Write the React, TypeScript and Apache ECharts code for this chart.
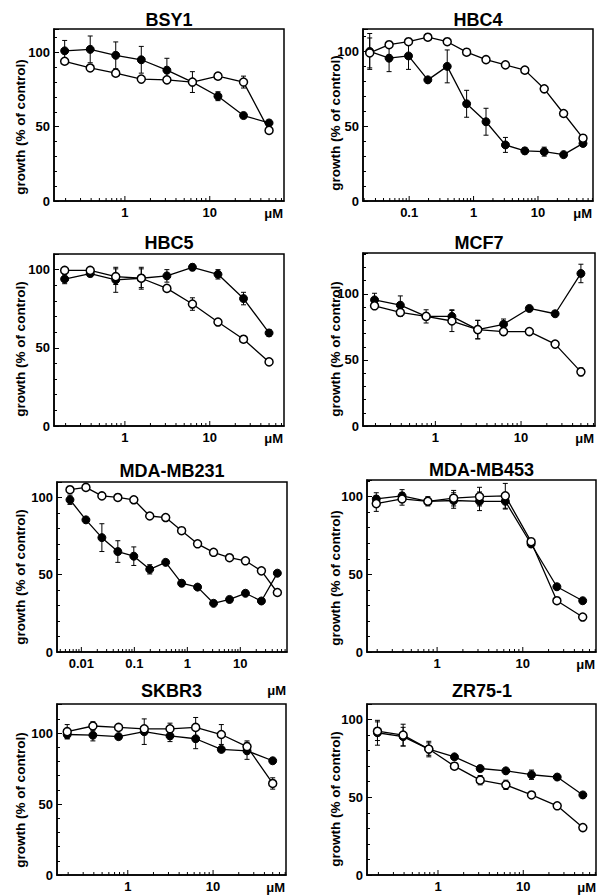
import React, { useEffect, useRef } from "react";
import * as echarts from "echarts";

// ---- concentrations (µM) ----
const conc9 = [0.195, 0.39, 0.78, 1.56, 3.125, 6.25, 12.5, 25, 50];
const conc12 = [0.0244, 0.0488, 0.0977, 0.195, 0.39, 0.78, 1.56, 3.125, 6.25, 12.5, 25, 50];
const conc14 = [0.0061, 0.0122, 0.0244, 0.0488, 0.0977, 0.195, 0.39, 0.78, 1.56, 3.125, 6.25, 12.5, 25, 50];

// ---- BSY1 ----
const bsy1Filled = [101, 102, 98, 95, 88, 80, 70.5, 57.5, 52.5];
const bsy1FilledErr = [7, 9, 9, 9, 8, 0, 3, 0, 0];
const bsy1Open = [94, 89.5, 86, 82, 81.5, 80, 84, 80, 47.5];
const bsy1OpenErr = [0, 2, 0, 0, 0, 7, 2, 4, 0];

// ---- HBC4 ----
const hbc4Filled = [100, 95.5, 97, 81, 90, 65, 53, 37.5, 33.5, 33, 31, 38.5];
const hbc4FilledErr = [12, 9, 9, 0, 11, 9, 9, 5, 2, 3, 0, 0];
const hbc4Open = [99, 104.5, 106.5, 109.5, 106.5, 99.5, 94.5, 91, 87.5, 75, 58.5, 42];
const hbc4OpenErr = [10, 0, 0, 0, 0, 0, 0, 0, 0, 0, 0, 0];

// ---- HBC5 ----
const hbc5Filled = [94, 97.5, 93.5, 94.5, 96, 101.5, 97, 81.5, 59.5];
const hbc5FilledErr = [3, 2, 8, 6, 4, 2, 3, 4, 2];
const hbc5Open = [99.5, 99.5, 95.5, 94.5, 88, 78, 66.5, 55.5, 41];
const hbc5OpenErr = [0, 0, 5, 7, 0, 4, 0, 2, 0];

// ---- MCF7 ----
const mcf7Filled = [95.5, 91.5, 83, 83, 73, 77, 89, 85, 115.5];
const mcf7FilledErr = [5, 7, 5, 5, 7, 4, 0, 0, 7];
const mcf7Open = [91, 86, 83, 79.5, 73, 71.5, 71.5, 62, 41];
const mcf7OpenErr = [0, 3, 0, 8, 7, 3, 0, 0, 3];

// ---- MDA-MB231 ----
const mb231Filled = [98.5, 85.5, 74, 65, 62, 53.5, 58, 44.5, 42, 31.5, 34, 38, 33, 51];
const mb231FilledErr = [3, 0, 9, 7, 6, 3, 0, 2, 0, 0, 0, 0, 0, 0];
const mb231Open = [105, 106.5, 101, 100, 98.5, 88, 87, 78.5, 70, 64.5, 61, 59, 52.5, 38.5];
const mb231OpenErr = [0, 0, 0, 0, 0, 0, 0, 0, 0, 0, 0, 0, 0, 0];

// ---- MDA-MB453 ----
const mb453Filled = [98.5, 100.5, 97, 97.5, 97, 97, 69.5, 42, 33];
const mb453FilledErr = [4, 4, 3, 5, 6, 5, 0, 0, 0];
const mb453Open = [95.5, 98.5, 97, 99, 100, 100.5, 71, 33, 22.5];
const mb453OpenErr = [5, 4, 2, 5, 6, 8, 2, 0, 0];

// ---- SKBR3 ----
const skbr3Filled = [99, 98.5, 97.5, 101, 98, 96, 88.5, 87.5, 80.5];
const skbr3FilledErr = [3, 4, 0, 9, 4, 7, 0, 6, 0];
const skbr3Open = [101, 105, 104, 103, 103, 104, 99, 90.5, 64.5];
const skbr3OpenErr = [5, 3, 0, 0, 4, 7, 7, 4, 4];

// ---- ZR75-1 ----
const zr751Filled = [91.5, 89, 81, 76, 68.5, 67, 64.5, 63, 51.5];
const zr751FilledErr = [8, 6, 5, 0, 0, 0, 3, 0, 0];
const zr751Open = [92.5, 90, 81, 70, 61, 58, 51.5, 44.5, 30.5];
const zr751OpenErr = [6, 7, 4, 0, 3, 3, 2, 0, 0];

const yTickLabels = [0, 50, 100];
const yAxisTitle = "growth (% of control)";
const unitLabel = "\u03bcM";

const panels = [
  { title: "BSY1", conc: conc9, filled: bsy1Filled, filledErr: bsy1FilledErr, open: bsy1Open, openErr: bsy1OpenErr },
  { title: "HBC4", conc: conc12, filled: hbc4Filled, filledErr: hbc4FilledErr, open: hbc4Open, openErr: hbc4OpenErr },
  { title: "HBC5", conc: conc9, filled: hbc5Filled, filledErr: hbc5FilledErr, open: hbc5Open, openErr: hbc5OpenErr },
  { title: "MCF7", conc: conc9, filled: mcf7Filled, filledErr: mcf7FilledErr, open: mcf7Open, openErr: mcf7OpenErr },
  { title: "MDA-MB231", conc: conc14, filled: mb231Filled, filledErr: mb231FilledErr, open: mb231Open, openErr: mb231OpenErr },
  { title: "MDA-MB453", conc: conc9, filled: mb453Filled, filledErr: mb453FilledErr, open: mb453Open, openErr: mb453OpenErr },
  { title: "SKBR3", conc: conc9, filled: skbr3Filled, filledErr: skbr3FilledErr, open: skbr3Open, openErr: skbr3OpenErr },
  { title: "ZR75-1", conc: conc9, filled: zr751Filled, filledErr: zr751FilledErr, open: zr751Open, openErr: zr751OpenErr },
];

// layout (positions/sizes/axis ranges)
const layouts = [
  { left: 54, top: 29, width: 230, height: 172, xMin: 0.146, xMax: 75, yMax: 115.7, titleY: 20, nameX: 20, nameY: 127, unitY: 213 },
  { left: 363, top: 29, width: 230, height: 172, xMin: 0.0192, xMax: 71.5, yMax: 115, titleY: 20, nameX: 335, nameY: 123, unitY: 213 },
  { left: 54, top: 254, width: 230, height: 172, xMin: 0.146, xMax: 75, yMax: 110, titleY: 243, nameX: 20, nameY: 349, unitY: 438 },
  { left: 363, top: 253, width: 232, height: 173, xMin: 0.143, xMax: 73, yMax: 131, titleY: 243, nameX: 335, nameY: 349, unitY: 438 },
  { left: 57, top: 482, width: 230, height: 170, xMin: 0.00347, xMax: 76, yMax: 110, titleY: 471, nameX: 20, nameY: 577, unitY: 690 },
  { left: 367, top: 480, width: 229, height: 172, xMin: 0.152, xMax: 71.5, yMax: 110.7, titleY: 470, nameX: 335, nameY: 578, unitY: 664 },
  { left: 57, top: 704, width: 229, height: 171, xMin: 0.148, xMax: 71.6, yMax: 120.5, titleY: 691, nameX: 20, nameY: 800, unitY: 887 },
  { left: 367, top: 704, width: 230, height: 171, xMin: 0.147, xMax: 71.3, yMax: 110, titleY: 691, nameX: 335, nameY: 799, unitY: 887 },
];

const FONT = "'Liberation Sans', Arial, Helvetica, sans-serif";

function logTicks(min: number, max: number) {
  const out: number[][] = [];
  for (let d = Math.floor(Math.log10(min)); d <= Math.ceil(Math.log10(max)); d++) {
    for (let m = 1; m <= 9; m++) {
      const v = m * Math.pow(10, d);
      if (v > min && v < max) out.push([v, m === 1 ? 1 : 0]);
    }
  }
  return out;
}

function fmtLog(v: number) {
  const l = Math.log10(v);
  const r = Math.round(l);
  if (Math.abs(l - r) > 0.01) return "";
  return String(Math.pow(10, r));
}

const errRender = (params: any, api: any) => {
  const x = api.value(0);
  const y = api.value(1);
  const e = api.value(2);
  const top = api.coord([x, y + e]);
  const bot = api.coord([x, y - e]);
  const w = 2.5;
  const st = { stroke: "#000", lineWidth: 1 };
  return {
    type: "group",
    children: [
      { type: "line", shape: { x1: top[0], y1: top[1], x2: bot[0], y2: bot[1] }, style: st },
      { type: "line", shape: { x1: top[0] - w, y1: top[1], x2: top[0] + w, y2: top[1] }, style: st },
      { type: "line", shape: { x1: bot[0] - w, y1: bot[1], x2: bot[0] + w, y2: bot[1] }, style: st },
    ],
  };
};

const tickRender = (params: any, api: any) => {
  const p = api.coord([api.value(0), 0]);
  const len = api.value(1) ? 5 : 3;
  return {
    type: "line",
    shape: { x1: p[0], y1: p[1], x2: p[0], y2: p[1] - len },
    style: { stroke: "#000", lineWidth: 1 },
  };
};

function buildOption() {
  const grid: any[] = [];
  const xAxis: any[] = [];
  const yAxis: any[] = [];
  const series: any[] = [];
  const graphic: any[] = [];

  panels.forEach((p, i) => {
    const L = layouts[i];
    grid.push({
      left: L.left, top: L.top, width: L.width, height: L.height,
      show: true, borderColor: "#000", borderWidth: 1.5, backgroundColor: "transparent",
    });
    xAxis.push({
      type: "log", logBase: 10, gridIndex: i, min: L.xMin, max: L.xMax,
      axisLine: { lineStyle: { color: "#000", width: 1.5 } },
      axisTick: { show: false },
      splitLine: { show: false },
      axisLabel: {
        formatter: (v: number) => fmtLog(v),
        fontSize: 13, fontWeight: "bold", color: "#000", fontFamily: FONT, margin: 5,
      },
    });
    yAxis.push({
      type: "value", gridIndex: i, min: 0, max: L.yMax, interval: 50,
      axisLine: { show: true, lineStyle: { color: "#000", width: 1.5 } },
      axisTick: { show: true, inside: true, length: 5, lineStyle: { color: "#000", width: 1 } },
      minorTick: { show: true, splitNumber: 5, length: 3, lineStyle: { color: "#000", width: 1 } },
      splitLine: { show: false },
      axisLabel: {
        formatter: (v: number) => (yTickLabels.indexOf(v) >= 0 ? String(v) : ""),
        fontSize: 13, fontWeight: "bold", color: "#000", fontFamily: FONT, margin: 4,
      },
    });

    series.push({
      type: "custom", xAxisIndex: i, yAxisIndex: i, silent: true, clip: false,
      data: logTicks(L.xMin, L.xMax), encode: { x: 0, y: 1 },
      renderItem: tickRender, z: 1,
    });

    const fErr = p.conc.map((c, k) => [c, p.filled[k], p.filledErr[k]]).filter((d) => d[2] > 0);
    const oErr = p.conc.map((c, k) => [c, p.open[k], p.openErr[k]]).filter((d) => d[2] > 0);
    series.push({
      type: "custom", xAxisIndex: i, yAxisIndex: i, silent: true, clip: false,
      data: fErr, encode: { x: 0, y: 1 }, renderItem: errRender, z: 2,
    });
    series.push({
      type: "custom", xAxisIndex: i, yAxisIndex: i, silent: true, clip: false,
      data: oErr, encode: { x: 0, y: 1 }, renderItem: errRender, z: 2,
    });
    series.push({
      type: "line", xAxisIndex: i, yAxisIndex: i, name: p.title + " filled",
      data: p.conc.map((c, k) => [c, p.filled[k]]),
      symbol: "circle", symbolSize: 8, showAllSymbol: true,
      lineStyle: { color: "#000", width: 1.3 },
      itemStyle: { color: "#000", borderColor: "#000", borderWidth: 1 },
      z: 3,
    });
    series.push({
      type: "line", xAxisIndex: i, yAxisIndex: i, name: p.title + " open",
      data: p.conc.map((c, k) => [c, p.open[k]]),
      symbol: "circle", symbolSize: 8, showAllSymbol: true,
      lineStyle: { color: "#000", width: 1.3 },
      itemStyle: { color: "#fff", borderColor: "#000", borderWidth: 1.5 },
      z: 4,
    });

    graphic.push({
      type: "text", x: L.left + L.width / 2, y: L.titleY,
      style: { text: p.title, font: `bold 18px ${FONT}`, fill: "#000", align: "center", verticalAlign: "middle" },
    });
    graphic.push({
      type: "text", x: L.nameX, y: L.nameY, rotation: Math.PI / 2,
      style: { text: yAxisTitle, font: `bold 13.5px ${FONT}`, fill: "#000", align: "center", verticalAlign: "middle" },
    });
    graphic.push({
      type: "text", x: L.left + L.width - 1, y: L.unitY,
      style: { text: unitLabel, font: `bold 13px ${FONT}`, fill: "#000", align: "right", verticalAlign: "middle" },
    });
  });

  return {
    animation: false,
    backgroundColor: "#fff",
    grid, xAxis, yAxis, series, graphic,
  };
}

export default function App() {
  const ref = useRef<HTMLDivElement>(null);
  useEffect(() => {
    if (!ref.current) return;
    const chart = echarts.init(ref.current, undefined, { renderer: "svg" });
    chart.setOption(buildOption() as any);
    return () => chart.dispose();
  }, []);
  return (
    <div
      ref={ref}
      style={{ position: "absolute", left: 0, top: 0, width: 599, height: 895, background: "#fff" }}
    />
  );
}
